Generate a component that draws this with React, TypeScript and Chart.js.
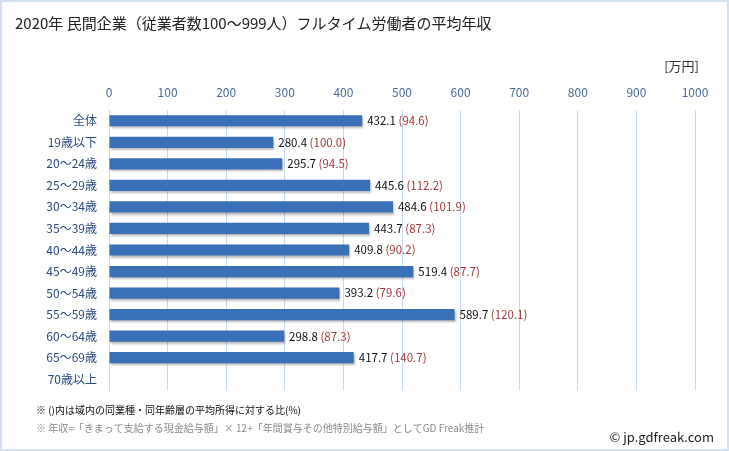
import React, { useEffect, useRef } from "react";
import { Chart, registerables } from "chart.js";

Chart.register(...registerables);

const categories = ["全体", "19歳以下", "20～24歳", "25～29歳", "30～34歳", "35～39歳", "40～44歳", "45～49歳", "50～54歳", "55～59歳", "60～64歳", "65～69歳", "70歳以上"];
const incomes: (number | null)[] = [432.1, 280.4, 295.7, 445.6, 484.6, 443.7, 409.8, 519.4, 393.2, 589.7, 298.8, 417.7, null];
const ratios: (number | null)[] = [94.6, 100.0, 94.5, 112.2, 101.9, 87.3, 90.2, 87.7, 79.6, 120.1, 87.3, 140.7, null];
const xMin = 0;
const xMax = 1000;
const xStep = 100;

const titleText = "2020年 民間企業（従業者数100～999人）フルタイム労働者の平均年収";
const unitText = "[万円]";
const note1 = "※ ()内は域内の同業種・同年齢層の平均所得に対する比(%)";
const note2 = "※ 年収=「きまって支給する現金給与額」× 12+「年間賞与その他特別給与額」としてGD Freak推計";
const credit = "© jp.gdfreak.com";

const FONT = "'Noto Sans CJK JP', 'Noto Sans', sans-serif";

export default function App() {
  const ref = useRef<HTMLCanvasElement | null>(null);
  useEffect(() => {
    document.body.style.margin = "0";
    const canvas = ref.current!;
    const decor = {
      id: "decor",
      beforeDraw(chart: any) {
        const ctx = chart.ctx;
        ctx.save();
        ctx.fillStyle = "#ffffff";
        ctx.fillRect(0, 0, chart.width, chart.height);
        ctx.restore();
      },
      beforeDatasetsDraw(chart: any) {
        const ctx = chart.ctx;
        ctx.save();
        ctx.shadowColor = "rgba(0,0,0,0.28)";
        ctx.shadowOffsetX = 1;
        ctx.shadowOffsetY = 2;
        ctx.shadowBlur = 2;
      },
      afterDatasetsDraw(chart: any) {
        chart.ctx.restore();
      },
      afterDraw(chart: any) {
        const ctx = chart.ctx;
        const xs = chart.scales.x;
        const ys = chart.scales.y;
        ctx.save();
        ctx.strokeStyle = "#d5e2f1";
        ctx.lineWidth = 2;
        ctx.strokeRect(1, 1, chart.width - 2, chart.height - 2);
        ctx.fillStyle = "#222222";
        ctx.font = `15px ${FONT}`;
        ctx.textAlign = "left";
        ctx.textBaseline = "middle";
        ctx.fillText(titleText, 15, 23);
        ctx.font = `13px ${FONT}`;
        ctx.textAlign = "right";
        ctx.fillStyle = "#333333";
        ctx.fillText(unitText, 699, 66);
        ctx.textAlign = "left";
        ctx.font = `11.5px ${FONT}`;
        for (let i = 0; i < categories.length; i++) {
          const v = incomes[i];
          if (v == null) continue;
          const x = xs.getPixelForValue(v) + 5;
          const y = ys.getPixelForValue(i);
          const s1 = v.toFixed(1) + " ";
          ctx.fillStyle = "#111111";
          ctx.fillText(s1, x, y);
          const w = ctx.measureText(s1).width;
          const r = ratios[i];
          if (r != null) {
            ctx.fillStyle = "#a33a3a";
            ctx.fillText("(" + r.toFixed(1) + ")", x + w, y);
          }
        }
        ctx.font = `10px ${FONT}`;
        ctx.fillStyle = "#111111";
        ctx.fillText(note1, 36, 410);
        ctx.fillStyle = "#8a8a8a";
        ctx.fillText(note2, 36, 428);
        ctx.font = `13px ${FONT}`;
        ctx.fillStyle = "#222222";
        ctx.textAlign = "right";
        ctx.fillText(credit, 714, 437);
        ctx.restore();
      },
    };
    const chart = new Chart(canvas, {
      type: "bar",
      data: {
        labels: categories,
        datasets: [
          {
            data: incomes as any,
            backgroundColor: (c: any) => {
              const chart = c.chart;
              const el = c.element;
              const ctx = chart.ctx;
              if (!el || el.y == null) return "#3a70b8";
              const h = el.height || 11;
              const g = ctx.createLinearGradient(0, el.y - h / 2, 0, el.y + h / 2);
              g.addColorStop(0, "#4a86d2");
              g.addColorStop(0.5, "#3a73c0");
              g.addColorStop(1, "#2a5798");
              return g;
            },
            borderWidth: 0,
            barPercentage: 0.52,
            categoryPercentage: 1,
          },
        ],
      },
      options: {
        indexAxis: "y",
        responsive: false,
        animation: false,
        devicePixelRatio: 1,
        layout: { padding: { left: 0, right: 34, top: 78, bottom: 61 } },
        plugins: { legend: { display: false }, tooltip: { enabled: false } },
        scales: {
          x: {
            position: "top",
            min: xMin,
            max: xMax,
            ticks: {
              stepSize: xStep,
              color: "#4a6a9e",
              font: { family: FONT, size: 12 },
              padding: 10,
              maxRotation: 0,
              callback: (v: any) => String(v),
            },
            grid: { color: "#c9dbee", drawTicks: false, lineWidth: 1 },
            border: { display: false },
            afterFit(scale: any) {
              scale.height = 32;
            },
          },
          y: {
            ticks: {
              color: "#2d4b80",
              font: { family: FONT, size: 12 },
              padding: 12,
            },
            grid: { display: false, drawTicks: false },
            border: { display: true, color: "#d6d6d6" },
            afterFit(scale: any) {
              scale.width = 109;
            },
          },
        },
      },
      plugins: [decor],
    } as any);
    return () => chart.destroy();
  }, []);
  return <canvas ref={ref} width={729} height={451} style={{ display: "block" }} />;
}
